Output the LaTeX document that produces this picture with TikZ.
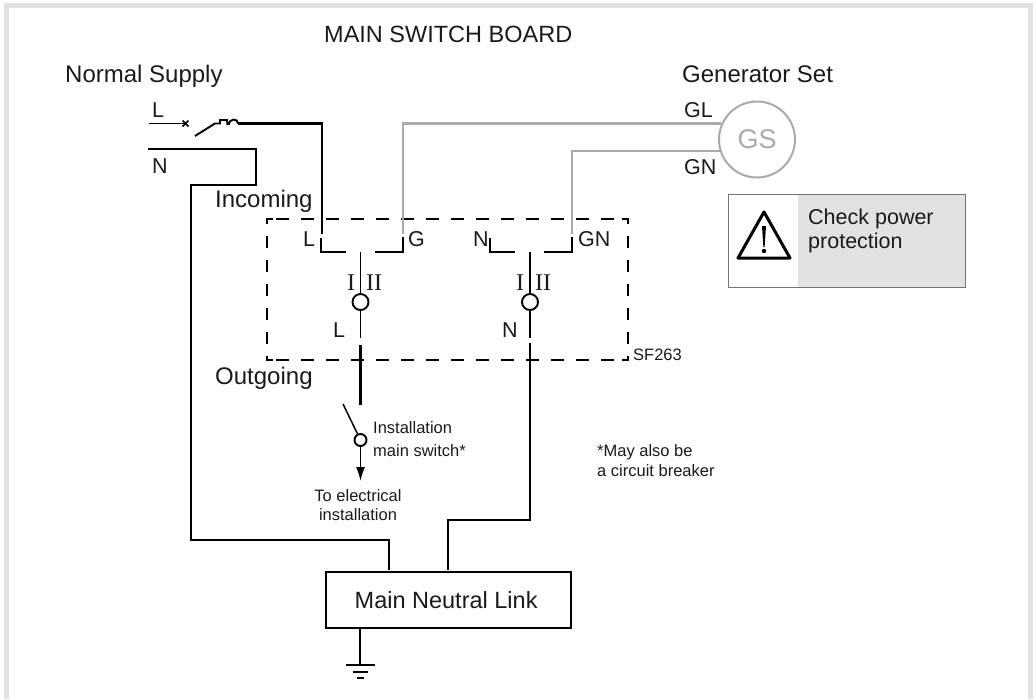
\documentclass[tikz,border=0pt]{standalone}
\usepackage{fontspec}
\setmainfont{Liberation Sans}
\usetikzlibrary{arrows.meta}
\definecolor{framegray}{HTML}{E2E2E2}
\definecolor{wiregray}{HTML}{AAAAAA}
\definecolor{txt}{HTML}{1A1A1A}
\newfontfamily\romfont{Liberation Serif}
\tikzset{
  wire/.style={line width=1.9pt,black},
  hwire/.style={line width=2.4pt,black},
  gwire/.style={line width=2.4pt,wiregray},
  lab/.style={inner sep=0pt,text=txt,font=\fontsize{24}{26}\selectfont,anchor=base west},
  mid/.style={inner sep=0pt,text=txt,font=\fontsize{21.5}{24}\selectfont,anchor=base west},
  small/.style={inner sep=0pt,text=txt,font=\fontsize{16.5}{23}\selectfont,align=left,anchor=base west},
  roman/.style={inner sep=0pt,text=txt,font=\romfont\fontsize{24}{26}\selectfont},
  ring/.style={circle,draw=black,line width=1.9pt,fill=white,inner sep=0pt},
  dashh/.style={line width=2.4pt,black,dash pattern=on 13pt off 12pt,dash phase=16pt},
  dashv/.style={line width=2.4pt,black,dash pattern=on 12pt off 12pt,dash phase=7pt},
  corner/.style={line width=2.4pt,black,line cap=rect},
}
\begin{document}
\begin{tikzpicture}[x=1pt,y=-1pt]
\useasboundingbox (0,0) rectangle (1036,699);
\fill[white] (0,0) rectangle (1036,699);
\fill[framegray] (4,3) rectangle (1033,699);
\fill[white] (9,8) rectangle (1028,699);
% titles
\node[lab,font=\fontsize{23.5}{26}\selectfont] (title) at (324,42) {MAIN SWITCH BOARD};
\node[lab] (normal) at (65,82) {Normal Supply};
\node[lab] (genset) at (682,82) {Generator Set};
\node[lab] (incoming) at (215,207) {Incoming};
\node[lab] (outgoing) at (215,384) {Outgoing};
% dashed box
\coordinate (tl) at (267,219);
\coordinate (tr) at (628,219);
\coordinate (br) at (628,360);
\coordinate (bl0) at (267,360);
\draw[dashh] (tl) -- (tr);
\draw[dashh] (bl0) -- (br);
\draw[dashv] (tl) -- (bl0);
\draw[dashv] (tr) -- (br);
\draw[corner] (272,219) -- (tl);
\draw[corner] (272,360) -- (bl0);
\draw[corner] (623,219) -- (tr);
\draw[corner] (623,360) -- (br);
% supply L
\node[mid] (lL) at (152,117) {L};
\coordinate (la) at (149,123.5);
\coordinate (lb) at (186,123.5);
\draw[wire] (la) -- (lb);
\draw[line width=1.6pt] (182.5,120.5) -- (188.5,126.5) (182.5,126.5) -- (188.5,120.5);
\coordinate (ba) at (195,136);
\coordinate (bb) at (215,123.5);
\draw[wire] (ba) -- (bb) -- (220,123.5) -- (220,120) -- (227,120) -- (227.5,125)
  (229,125) .. controls (229,118) and (238,118) .. (238,123.5);
\coordinate (lk) at (322,123.5);
\coordinate (lt) at (322,234);
\draw[hwire] (238,123.5) -- (lk) -- (lt);
% supply N
\node[mid] (lN) at (152,173) {N};
\coordinate (na) at (148,149);
\coordinate (nb) at (256,149);
\coordinate (nc) at (256,185);
\coordinate (nd) at (191,185);
\coordinate (ne) at (191,540);
\coordinate (nf) at (389,540);
% neutral link
\node[draw=black,line width=2.4pt,fill=white,minimum width=245pt,minimum height=56pt,inner sep=0pt,anchor=north west] (link) at (325,570.5) {};
\node[inner sep=0pt,text=txt,font=\fontsize{23.5}{26}\selectfont,anchor=base west] (linktext) at (354.5,608) {Main Neutral Link};
\coordinate (nlt) at (389,570);
\draw[hwire] (na) -- (nb) -- (nc) -- (nd) -- (ne) -- (nf) -- (nlt);
% generator
\node[circle,draw=wiregray,line width=2pt,minimum size=76pt,inner sep=0pt,font=\fontsize{27}{30}\selectfont,text=wiregray] (gs) at (757,139.5) {GS};
\node[mid] (gl) at (684,117) {GL};
\node[mid] (gn) at (684,174) {GN};
\coordinate (g1) at (403,123.5);
\coordinate (g2) at (403,234);
\coordinate (g3) at (572,151);
\coordinate (g4) at (572,234);
\draw[gwire] (g2) -- (g1) -- (721,123.5);
\draw[gwire] (g4) -- (g3) -- (722,151);
% switch 1
\draw[wire] (321,238) -- (321,252) -- (346,252);
\draw[wire] (375,252) -- (403,252) -- (403,237);
\node[mid] (s1L) at (303,246) {L};
\node[mid] (s1G) at (408,246) {G};
\node[ring,minimum size=16pt] (r1) at (360.5,302) {};
\coordinate (r1t) at (360.5,252);
\coordinate (r1b) at (360.5,338);
\draw[wire] (r1t) -- (r1) -- (r1b);
\node[roman] (i1) at (351,283) {I};
\node[roman] (ii1) at (374,283) {II};
\node[mid] (s1o) at (333,337) {L};
% outgoing
\coordinate (t1) at (360.5,345);
\coordinate (t2) at (360.5,405);
\draw[line width=3.5pt] (t1) -- (t2);
\node[ring,minimum size=12pt] (r3) at (360.5,440) {};
\coordinate (bl) at (343,404);
\draw[line width=1.5pt] (bl) -- (r3);
\coordinate (tip) at (360.5,481);
\draw[line width=1.5pt,-{Latex[length=14pt,width=9pt]}] (r3) -- (tip);
\node[small] (inst) at (373,456) {Installation\\main switch*};
\node[small,align=center,anchor=base,font=\fontsize{16.5}{19}\selectfont] (toel) at (358,520) {To electrical\\installation};
% switch 2
\draw[wire] (490,238) -- (490,252) -- (515,252);
\draw[wire] (544,252) -- (572,252) -- (572,237);
\node[mid] (s2N) at (473,246) {N};
\node[mid] (s2G) at (578,246) {GN};
\node[ring,minimum size=16pt] (r2) at (530,302) {};
\coordinate (r2t) at (530,252);
\coordinate (r2b) at (530,338);
\draw[wire] (r2t) -- (r2) -- (r2b);
\node[roman] (i2) at (520,283) {I};
\node[roman] (ii2) at (543,283) {II};
\node[mid] (s2o) at (502,337) {N};
\coordinate (q1) at (530,343);
\coordinate (q2) at (530,520);
\coordinate (q3) at (448,520);
\coordinate (q4) at (448,570);
\draw[hwire] (q1) -- (q2) -- (q3) -- (q4);
\node[small] (sf) at (633,360) {SF263};
\node[small,font=\fontsize{16.5}{20}\selectfont] (may) at (597,476) {*May also be\\a circuit breaker};
% earth
\coordinate (e1) at (360,627);
\coordinate (e2) at (360,665);
\draw[wire] (e1) -- (e2);
\draw[line width=1.6pt] (345.5,665) -- (374.5,665) (352.5,672) -- (367.5,672) (356.5,678) -- (363.5,678);
% warning
\fill[framegray] (798,194) rectangle (965,287);
\draw[line width=1pt,black!55] (728,194) rectangle (965,287);
\draw[line width=3pt,line join=round] (764,212) -- (790,258) -- (738,258) -- cycle;
\fill (762,226) -- (766,226) -- (764.6,247) -- (763.4,247) -- cycle;
\fill (764,251) circle (2.2pt);
\node[inner sep=0pt,text=txt,font=\fontsize{21.5}{24}\selectfont,align=left,anchor=base west] (chk) at (808,248) {Check power\\protection};
\end{tikzpicture}
\end{document}
